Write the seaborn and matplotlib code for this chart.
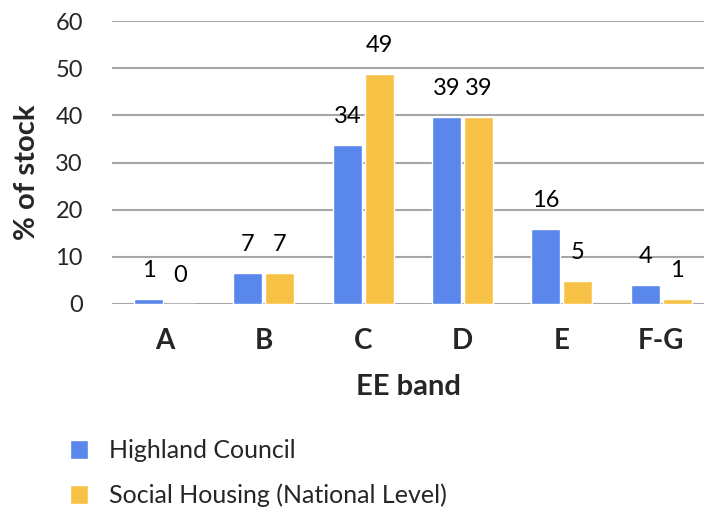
import matplotlib
matplotlib.use('Agg')
import pandas as pd
import matplotlib.pyplot as plt
import seaborn as sns

bands = ['A', 'B', 'C', 'D', 'E', 'F-G']
highland = [1.05, 6.6, 33.7, 39.6, 15.9, 4.0]
social = [0.0, 6.6, 48.7, 39.6, 4.9, 1.05]
highland_labels = ['1', '7', '34', '39', '16', '4']
social_labels = ['0', '7', '49', '39', '5', '1']
series_names = ['Highland Council', 'Social Housing (National Level)']

df = pd.DataFrame({
    'EE band': bands * 2,
    'pct': highland + social,
    'series': [series_names[0]] * len(bands) + [series_names[1]] * len(bands),
})

sns.set_style('white')
plt.rcParams['font.family'] = ['Lato', 'DejaVu Sans']

fig = plt.figure(figsize=(7.04, 5.13), dpi=100)
ax = fig.add_axes([112 / 704, (513 - 304) / 513, 592 / 704, 283 / 513])

sns.barplot(data=df, x='EE band', y='pct', hue='series',
            palette={series_names[0]: '#5A87EB', series_names[1]: '#F7C146'},
            width=0.644, gap=0.09, errorbar=None, saturation=1, ax=ax)

for cont, labs in zip(ax.containers, [highland_labels, social_labels]):
    ax.bar_label(cont, labels=labs, padding=13, fontsize=17, color='black')

ax.set_ylim(0, 60)
ax.set_xlim(-0.53, -0.53 + 592 / 99.3)
ax.set_yticks(range(0, 61, 10))
ax.yaxis.grid(True, color='#A6A6A6', linewidth=1.5)
ax.set_axisbelow(True)
sns.despine(ax=ax, left=True, bottom=True)
ax.tick_params(axis='y', length=0, pad=21, labelsize=17)
ax.tick_params(axis='x', length=0, pad=17, labelsize=20)
for t in ax.get_xticklabels():
    t.set_fontweight('bold')

ax.set_xlabel('EE band', fontsize=21, fontweight='bold', labelpad=15)
ax.set_ylabel('% of stock', fontsize=21, fontweight='bold')
ax.yaxis.set_label_coords(-0.122, 0.466)

# legend sits below the plot, stacked vertically
sns.move_legend(ax, 'upper left', frameon=False, title=None, fontsize=18,
                handlelength=0.72, handleheight=0.8, handletextpad=0.85,
                labelspacing=0.85, borderpad=0, borderaxespad=0)
leg = ax.get_legend()
leg.set_bbox_to_anchor(((70 - 112) / 592, -(439 - 304) / 283), transform=ax.transAxes)

fig.savefig('out.png', dpi=100)
